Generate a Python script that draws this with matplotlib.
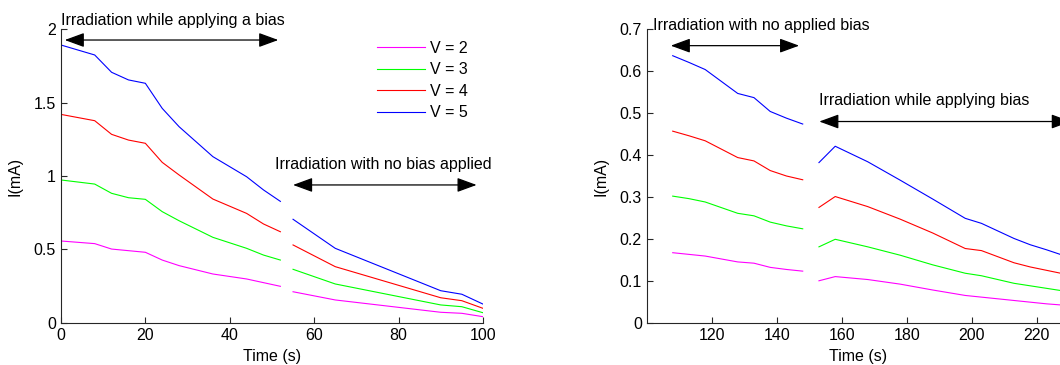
import numpy as np
import matplotlib
matplotlib.use('Agg')
import matplotlib.pyplot as plt

plt.rcParams['font.family'] = ['Liberation Sans', 'DejaVu Sans']
plt.rcParams['font.size'] = 11.5

# left panel: bias first, then no bias
t1a = [0, 8, 12, 16, 20, 24, 28, 36, 44, 48, 52]
t1b = [55, 65, 90, 95, 100]
left_a = {
    'V = 2': [0.557, 0.539, 0.502, 0.491, 0.480, 0.427, 0.389, 0.332, 0.298, 0.273, 0.248],
    'V = 3': [0.973, 0.945, 0.882, 0.852, 0.841, 0.757, 0.695, 0.582, 0.507, 0.461, 0.427],
    'V = 4': [1.420, 1.377, 1.284, 1.245, 1.223, 1.093, 1.007, 0.843, 0.745, 0.673, 0.620],
    'V = 5': [1.893, 1.825, 1.707, 1.655, 1.632, 1.461, 1.336, 1.132, 0.995, 0.905, 0.827],
}
left_b = {
    'V = 2': [0.211, 0.155, 0.071, 0.064, 0.041],
    'V = 3': [0.364, 0.264, 0.121, 0.109, 0.068],
    'V = 4': [0.530, 0.382, 0.170, 0.150, 0.098],
    'V = 5': [0.705, 0.507, 0.218, 0.194, 0.127],
}

# right panel: no bias first, then bias
t2a = [108, 113, 118, 128, 133, 138, 143, 148]
t2b = [153, 158, 168, 178, 188, 198, 203, 213, 218, 223, 228]
right_a = {
    'V = 2': [0.167, 0.163, 0.159, 0.145, 0.142, 0.132, 0.127, 0.123],
    'V = 3': [0.302, 0.296, 0.288, 0.261, 0.255, 0.240, 0.231, 0.224],
    'V = 4': [0.457, 0.446, 0.434, 0.394, 0.386, 0.363, 0.350, 0.341],
    'V = 5': [0.637, 0.621, 0.604, 0.547, 0.537, 0.504, 0.488, 0.474],
}
right_b = {
    'V = 2': [0.100, 0.110, 0.103, 0.092, 0.078, 0.065, 0.061, 0.053, 0.049, 0.045, 0.042],
    'V = 3': [0.181, 0.199, 0.181, 0.161, 0.138, 0.118, 0.112, 0.094, 0.088, 0.082, 0.076],
    'V = 4': [0.275, 0.301, 0.277, 0.247, 0.214, 0.177, 0.172, 0.143, 0.133, 0.125, 0.117],
    'V = 5': [0.382, 0.421, 0.384, 0.340, 0.295, 0.249, 0.237, 0.201, 0.186, 0.174, 0.161],
}
colors = {'V = 2': '#ff00ff', 'V = 3': '#00ff00', 'V = 4': '#ff0000', 'V = 5': '#0000ff'}


def style_axes(ax):
    for s in ['top', 'right']:
        ax.spines[s].set_visible(False)
    for s in ['left', 'bottom']:
        ax.spines[s].set_color('0.15')
        ax.spines[s].set_linewidth(0.8)
    ax.tick_params(direction='in', length=4, width=0.8, color='0.15', labelsize=11.5)


def arrow(ax, x0, x1, y):
    ax.annotate('', xy=(x1, y), xytext=(x0, y), annotation_clip=False,
                arrowprops=dict(arrowstyle='<|-|>,head_length=0.6,head_width=0.22',
                                color='k', lw=0.9, mutation_scale=20,
                                shrinkA=0, shrinkB=0))


fig = plt.figure(figsize=(10.6, 3.65), dpi=100)
ax1 = fig.add_axes([0.0575, 0.1159, 0.3981, 0.8038])
ax2 = fig.add_axes([0.6101, 0.1159, 0.3986, 0.8038])

# left
for k in left_a:
    ax1.plot(t1a, left_a[k], color=colors[k], lw=0.8, label=k)
    ax1.plot(t1b, left_b[k], color=colors[k], lw=0.8)
ax1.set_xlim(0, 100)
ax1.set_ylim(0, 2)
ax1.set_xticks([0, 20, 40, 60, 80, 100])
ax1.set_yticks([0, 0.5, 1, 1.5, 2])
ax1.set_yticklabels(['0', '0.5', '1', '1.5', '2'])
ax1.set_xlabel('Time (s)')
ax1.set_ylabel('I(mA)')
ax1.yaxis.set_label_coords(-0.09, 0.5)
ax1.xaxis.set_label_coords(0.5, -0.088)
style_axes(ax1)
ax1.text(0, 2.06, 'Irradiation while applying a bias', ha='left', va='center')
arrow(ax1, 0.9, 51.5, 1.927)
ax1.text(76.5, 1.08, 'Irradiation with no bias applied', ha='center', va='center')
arrow(ax1, 55, 98.5, 0.939)
ax1.legend(loc='upper left', bbox_to_anchor=(0.75, 0.96), frameon=False,
           handlelength=3.0, handletextpad=0.3, labelspacing=0.4, borderpad=0,
           borderaxespad=0)

# right
for k in right_a:
    ax2.plot(t2a, right_a[k], color=colors[k], lw=0.8)
    ax2.plot(t2b, right_b[k], color=colors[k], lw=0.8)
ax2.set_xlim(100, 230)
ax2.set_ylim(0, 0.7)
ax2.set_xticks([120, 140, 160, 180, 200, 220])
ax2.set_yticks(np.arange(0, 0.71, 0.1))
ax2.set_yticklabels(['0', '0.1', '0.2', '0.3', '0.4', '0.5', '0.6', '0.7'])
ax2.set_xlabel('Time (s)')
ax2.set_ylabel('I(mA)')
ax2.yaxis.set_label_coords(-0.09, 0.5)
ax2.xaxis.set_label_coords(0.5, -0.088)
style_axes(ax2)
ax2.text(102, 0.708, 'Irradiation with no applied bias', ha='left', va='center')
arrow(ax2, 107.4, 146.9, 0.661)
ax2.text(185.5, 0.529, 'Irradiation while applying bias', ha='center', va='center')
arrow(ax2, 153.1, 230.5, 0.480)

fig.savefig('out.png', dpi=100)
